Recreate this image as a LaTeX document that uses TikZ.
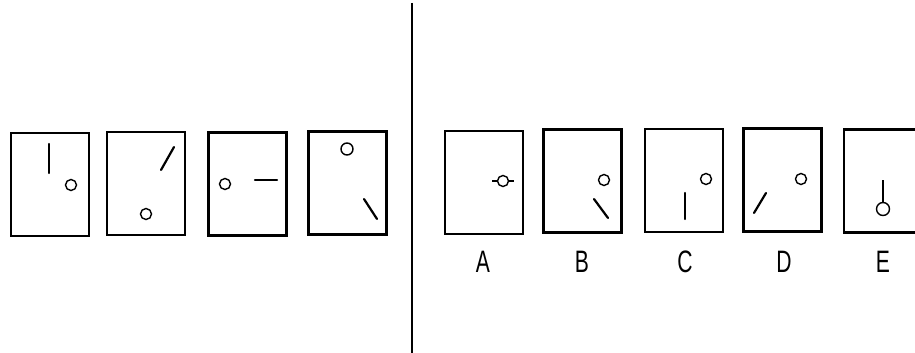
\documentclass[tikz,border=0pt]{standalone}
\usepackage{fontspec}
\setmainfont{Liberation Sans}
\usetikzlibrary{positioning}

\begin{document}
\begin{tikzpicture}[
    x=1pt, y=-1pt,
    panel/.style={draw, line width=2.2pt, minimum width=78pt, minimum height=103pt, inner sep=0pt},
    ring/.style={circle, draw, line width=1.4pt, minimum size=11pt, inner sep=0pt},
    stroke/.style={line width=2.2pt, line cap=round},
    letter/.style={font=\fontsize{31}{34}\selectfont, xscale=0.68, inner sep=0pt}
  ]
  \useasboundingbox (0,0) rectangle (915,353);
  \clip (0,0) rectangle (915,353);

  % question row
  \node[panel] (q1) at (50,184.5) {};
  \node[panel] (q2) at (146,183.5) {};
  \node[panel] (q3) at (247.5,184) {};
  \node[panel] (q4) at (347.5,183) {};

  \node[ring] (c1) at (71,185) {};
  \coordinate (a1) at (49,144); \coordinate (b1) at (49,173);
  \draw[stroke] (a1) -- (b1);

  \node[ring] (c2) at (146,214) {};
  \coordinate (a2) at (161,170); \coordinate (b2) at (174,147);
  \draw[stroke] (a2) -- (b2);

  \node[ring] (c3) at (225,184) {};
  \coordinate (a3) at (255,180); \coordinate (b3) at (277,180);
  \draw[stroke] (a3) -- (b3);

  \node[ring, minimum height=12pt] (c4) at (347,149) {};
  \coordinate (a4) at (364,199); \coordinate (b4) at (377,219);
  \draw[stroke] (a4) -- (b4);

  % divider
  \coordinate (top) at (412,3); \coordinate (bot) at (412,353);
  \draw[line width=1.8pt] (top) -- (bot);

  % answer row
  \node[panel] (pa) at (484,182.5) {};
  \node[panel] (pb) at (582.5,181) {};
  \node[panel] (pc) at (684,180.5) {};
  \node[panel] (pd) at (782.5,180) {};
  \node[panel] (pe) at (883,181) {};

  \node[ring] (ca) at (503,181) {};
  \coordinate (la) at (492,181); \coordinate (ra) at (514,181);
  \draw[line width=1.2pt] (la) -- (ca.west) (ca.east) -- (ra);

  \node[ring] (cb) at (604,180) {};
  \coordinate (ab) at (594,199); \coordinate (bb) at (608,218);
  \draw[stroke] (ab) -- (bb);

  \node[ring] (cc) at (706,179) {};
  \coordinate (ac) at (685,193); \coordinate (bc) at (685,219);
  \draw[stroke] (ac) -- (bc);

  \node[ring] (cd) at (801,179) {};
  \coordinate (ad) at (754,213); \coordinate (bd) at (766,193);
  \draw[stroke] (ad) -- (bd);

  \node[ring, minimum height=13pt] (ce) at (883,209) {};
  \coordinate (ae) at (883,180);
  \draw[line width=1.4pt] (ae) -- (ce.north);

  % labels
  \node[letter] (ta) at (483,262) {A};
  \node[letter] (tb) at (582,262) {B};
  \node[letter] (tc) at (685,262) {C};
  \node[letter] (td) at (784,262) {D};
  \node[letter] (te) at (883,262) {E};
\end{tikzpicture}
\end{document}
